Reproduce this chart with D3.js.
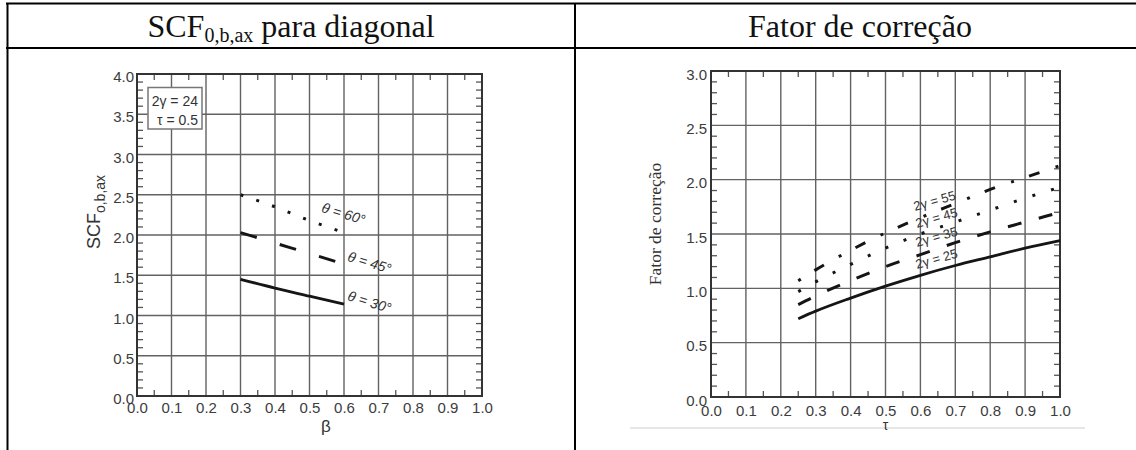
<!DOCTYPE html>
<html><head><meta charset="utf-8">
<script src="https://cdn.jsdelivr.net/npm/d3@7"></script>
<style>body{margin:0;background:#fff}svg{display:block}</style>
</head><body>
<svg id="c" width="1136" height="450"></svg>
<script>
// ---------- data ----------
const xTickValues = [0,0.1,0.2,0.3,0.4,0.5,0.6,0.7,0.8,0.9,1.0];
const leftYTickValues = [0,0.5,1.0,1.5,2.0,2.5,3.0,3.5,4.0];
const rightYTickValues = [0,0.5,1.0,1.5,2.0,2.5,3.0];

const betaValues = [0.3,0.4,0.5,0.6];
const scfTheta30 = [1.45,1.34,1.24,1.14];
const scfTheta45 = [2.03,1.90,1.77,1.64];
const scfTheta60 = [2.50,2.35,2.18,2.03];
const thetaLabels = ["θ = 30°","θ = 45°","θ = 60°"];

const tauValues = [0.25,0.3,0.4,0.5,0.6,0.7,0.8,0.9,1.0];
const cfGamma25 = [0.72,0.79,0.91,1.02,1.12,1.21,1.29,1.37,1.44];
const cfGamma35 = [0.85,0.93,1.07,1.20,1.31,1.42,1.52,1.61,1.70];
const cfGamma45 = [0.97,1.06,1.22,1.37,1.50,1.61,1.72,1.83,1.93];
const cfGamma55 = [1.07,1.17,1.35,1.51,1.65,1.78,1.91,2.02,2.13];
const gammaLabels = ["2γ = 25","2γ = 35","2γ = 45","2γ = 55"];

const headerLeft = ["SCF","0,b,ax"," para diagonal"];
const headerRight = "Fator de correção";

// ---------- drawing ----------
const svg = d3.select("#c");
const sans = "'Liberation Sans', Arial, sans-serif";
const serif = "'Liberation Serif', 'Times New Roman', serif";

// table
const tbl = svg.append("g").attr("stroke","#000").attr("stroke-width",2);
tbl.append("line").attr("x1",6).attr("x2",1136).attr("y1",3.5).attr("y2",3.5);
tbl.append("line").attr("x1",6).attr("x2",1136).attr("y1",48).attr("y2",48);
tbl.append("line").attr("x1",7.5).attr("x2",7.5).attr("y1",3).attr("y2",450);
tbl.append("line").attr("x1",575).attr("x2",575).attr("y1",3).attr("y2",450);

const hl = svg.append("text").attr("x",291).attr("y",37).attr("text-anchor","middle")
  .attr("font-family",serif).attr("font-size",32).attr("fill","#111");
hl.append("tspan").text(headerLeft[0]);
hl.append("tspan").attr("font-size",20).attr("dy",5).text(headerLeft[1]);
hl.append("tspan").attr("dy",-5).text(headerLeft[2]);
svg.append("text").attr("x",860).attr("y",37).attr("text-anchor","middle")
  .attr("font-family",serif).attr("font-size",32).attr("fill","#111").text(headerRight);

// faint scan edge on right picture
svg.append("line").attr("x1",630).attr("x2",1085).attr("y1",428).attr("y2",428)
  .attr("stroke","#e6e6e6").attr("stroke-width",2);

function chart(o){
  const g = svg.append("g");
  const x = d3.scaleLinear().domain([0,1]).range([o.x0,o.x1]);
  const y = d3.scaleLinear().domain([0,o.ymax]).range([o.y0,o.y1]);
  // grid
  const gv = xTickValues.filter(v=>v>0&&v<1);
  g.selectAll(null).data(gv).enter().append("line")
    .attr("x1",d=>x(d)).attr("x2",d=>x(d)).attr("y1",o.y0).attr("y2",o.y1)
    .attr("stroke","#626262").attr("stroke-width",1.4);
  const gh = o.yTicks.filter(v=>v>0&&v<o.ymax);
  g.selectAll(null).data(gh).enter().append("line")
    .attr("y1",d=>y(d)).attr("y2",d=>y(d)).attr("x1",o.x0).attr("x2",o.x1)
    .attr("stroke","#626262").attr("stroke-width",1.4);
  // minor ticks
  const minY = d3.range(1, Math.round(o.ymax*10)).map(i=>i/10).filter(v=>Math.abs(v*2-Math.round(v*2))>1e-6);
  const minX = d3.range(0,10).map(i=>i/10+0.05);
  const tk = g.append("g").attr("stroke","#555").attr("stroke-width",1.3);
  minY.forEach(v=>{
    tk.append("line").attr("x1",o.x0).attr("x2",o.x0+6).attr("y1",y(v)).attr("y2",y(v));
    tk.append("line").attr("x1",o.x1).attr("x2",o.x1-6).attr("y1",y(v)).attr("y2",y(v));
  });
  minX.forEach(v=>{
    tk.append("line").attr("x1",x(v)).attr("x2",x(v)).attr("y1",o.y0).attr("y2",o.y0-6);
    tk.append("line").attr("x1",x(v)).attr("x2",x(v)).attr("y1",o.y1).attr("y2",o.y1+6);
  });
  // frame
  g.append("rect").attr("x",o.x0).attr("y",o.y1).attr("width",o.x1-o.x0).attr("height",o.y0-o.y1)
    .attr("fill","none").attr("stroke","#333").attr("stroke-width",2);
  // axes labels
  const ax = g.append("g").attr("transform",`translate(0,${o.y0})`)
    .call(d3.axisBottom(x).tickValues(xTickValues).tickFormat(d3.format(".1f")).tickSize(0).tickPadding(o.xpad));
  const ay = g.append("g").attr("transform",`translate(${o.x0},0)`)
    .call(d3.axisLeft(y).tickValues(o.yTicks).tickFormat(d3.format(".1f")).tickSize(0).tickPadding(o.ypad));
  [ax,ay].forEach(a=>{a.select(".domain").remove();
    a.selectAll("text").attr("font-family",sans).attr("font-size",15).attr("fill","#3c3c3c");});
  ay.selectAll("text").attr("dy",o.ydy);
  // series
  const line = d3.line().x(d=>x(d[0])).y(d=>y(d[1])).curve(d3.curveMonotoneX);
  o.series.forEach(s=>{
    g.append("path").datum(s.xs.map((v,i)=>[v,s.ys[i]]))
      .attr("d",line).attr("fill","none").attr("stroke","#151515")
      .attr("stroke-width",s.w).attr("stroke-dasharray",s.dash||null);
  });
  return {g,x,y};
}

const L = chart({x0:137,x1:482,y0:396,y1:74,ymax:4,yTicks:leftYTickValues,xpad:6,ypad:3,ydy:"0.5em",
  series:[
    {xs:betaValues,ys:scfTheta30,w:2.8},
    {xs:betaValues,ys:scfTheta45,w:3,dash:"17,24"},
    {xs:betaValues,ys:scfTheta60,w:3,dash:"3,13.7"}
  ]});
const R = chart({x0:711,x1:1060,y0:397,y1:71,ymax:3,yTicks:rightYTickValues,xpad:8,ypad:4,ydy:"0.55em",
  series:[
    {xs:tauValues,ys:cfGamma25,w:2.8},
    {xs:tauValues,ys:cfGamma35,w:3,dash:"14,18"},
    {xs:tauValues,ys:cfGamma45,w:3,dash:"3,16.5"},
    {xs:tauValues,ys:cfGamma55,w:3,dash:"3,16,11,17"}
  ]});

// left: legend box
L.g.append("rect").attr("x",148).attr("y",87.5).attr("width",54).attr("height",41.5)
  .attr("fill","#fff").attr("stroke","#777").attr("stroke-width",1.5);
L.g.append("text").attr("x",198).attr("y",106).attr("text-anchor","end").attr("font-family",sans)
  .attr("font-size",14).attr("fill","#333").text("2γ = 24");
L.g.append("text").attr("x",198).attr("y",125).attr("text-anchor","end").attr("font-family",sans)
  .attr("font-size",14).attr("fill","#333").text("τ = 0.5");
// left: axis titles
const yl = L.g.append("text").attr("transform","translate(100,212) rotate(-90)").attr("text-anchor","middle")
  .attr("font-family",sans).attr("font-size",18).attr("fill","#333");
yl.append("tspan").text("SCF");
yl.append("tspan").attr("font-size",14).attr("dy",5).text("o,b,ax");
L.g.append("text").attr("x",326).attr("y",432).attr("text-anchor","middle").attr("font-family",sans)
  .attr("font-size",17).attr("fill","#333").text("β");
// left: theta labels
const thetaPos = [[346.7,300],[346.7,260.7],[320.7,211.7]];
thetaLabels.forEach((t,i)=>{
  L.g.append("text").attr("transform",`translate(${thetaPos[i][0]},${thetaPos[i][1]}) rotate(17)`)
    .attr("font-family",sans).attr("font-size",14).attr("font-style","italic").attr("fill","#333").text(t);
});

// right: axis titles
R.g.append("text").attr("transform","translate(661,224) rotate(-90)").attr("text-anchor","middle")
  .attr("font-family",serif).attr("font-size",17.5).attr("fill","#333").text("Fator de correção");
R.g.append("text").attr("x",885.5).attr("y",429.5).attr("text-anchor","middle").attr("font-family",sans)
  .attr("font-size",14).attr("fill","#333").text("τ");
// right: gamma labels
const gammaPos = [[917,269],[917,247],[917,228],[915,211]];
gammaLabels.forEach((t,i)=>{
  R.g.append("text").attr("transform",`translate(${gammaPos[i][0]},${gammaPos[i][1]}) rotate(-16)`)
    .attr("font-family",sans).attr("font-size",13).attr("fill","#333").text(t);
});
</script>
</body></html>
